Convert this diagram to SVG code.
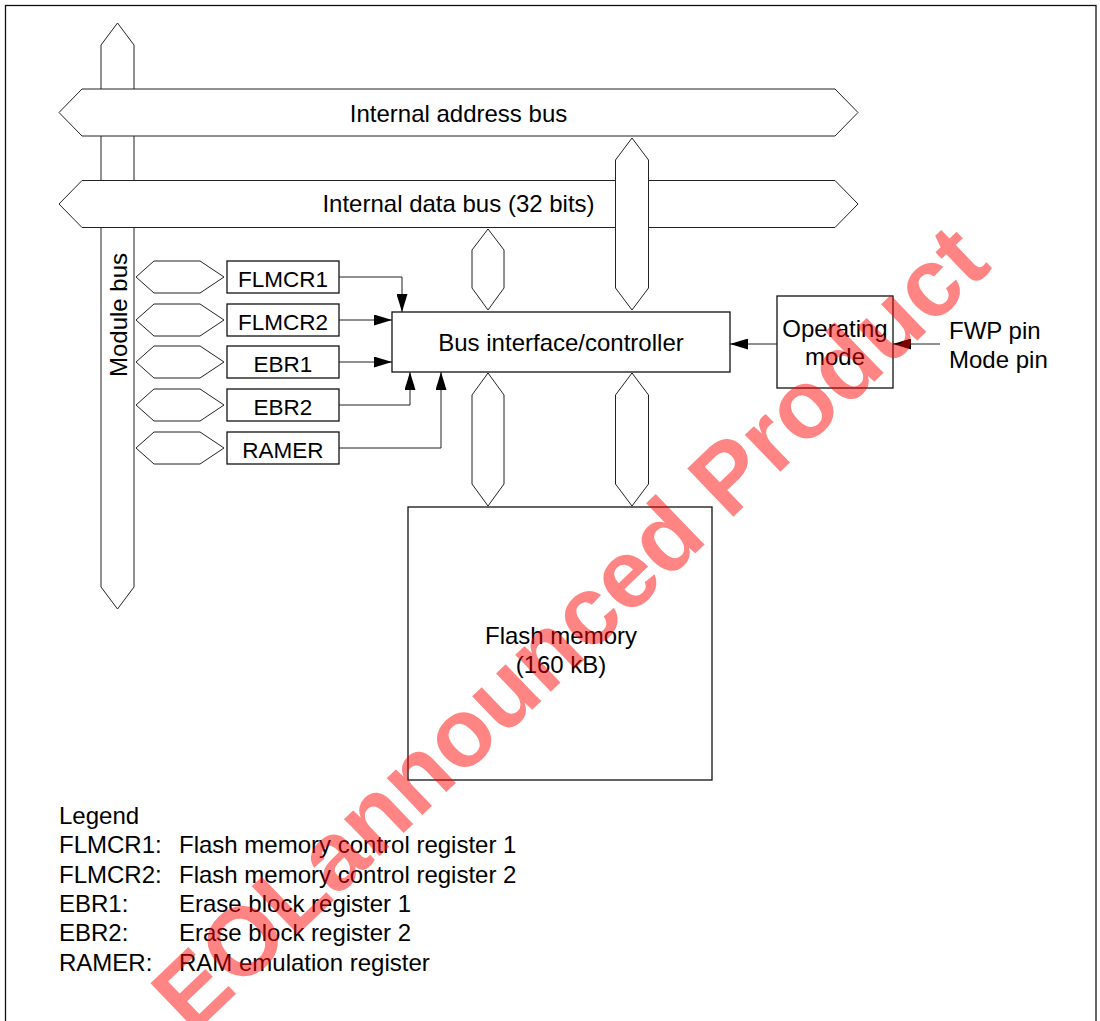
<svg xmlns="http://www.w3.org/2000/svg" width="1100" height="1021" viewBox="0 0 1100 1021">
<defs>
<style>
.bus{fill:#fff;stroke:#222;stroke-width:1}
.box{fill:#fff;stroke:#111;stroke-width:1.3}
.t{font-family:"Liberation Sans",Arial,sans-serif;font-size:24px;fill:#000}
.r{font-family:"Liberation Sans",Arial,sans-serif;font-size:22.5px;fill:#000;text-anchor:middle}
.m{text-anchor:middle}
.c{fill:none;stroke:#222;stroke-width:1}
.wm{font-family:"Liberation Sans",Arial,sans-serif;font-size:97px;font-weight:bold;fill:#ff0000;fill-opacity:0.48}
</style>
<marker id="ah" markerWidth="18" markerHeight="11" refX="18" refY="5.5" orient="auto" markerUnits="userSpaceOnUse">
<path d="M0,0 L18,5.5 L0,11 z" fill="#000"/>
</marker>
</defs>
<rect x="0" y="0" width="1100" height="1021" fill="#fff"/>
<rect x="5.5" y="5.5" width="1090.5" height="1030" fill="none" stroke="#111" stroke-width="1.3"/>

<g id="module-bus">
<polygon class="bus" points="117.5,23 134,45 134,587 117.5,609 101,587 101,45"/>
<text class="t m" transform="translate(127,315) rotate(-90)" x="0" y="0">Module bus</text>
</g>
<g id="address-bus">
<polygon class="bus" points="59,112.5 82,89 835,89 858,112.5 835,136 82,136"/>
<text class="t m" x="458.5" y="122">Internal address bus</text>
</g>
<g id="data-bus">
<polygon class="bus" points="59,204 82,180.5 835,180.5 858,204 835,227.5 82,227.5"/>
<text class="t m" x="458.5" y="212">Internal data bus (32 bits)</text>
</g>
<g id="addr-link">
<polygon class="bus" points="632,138 648.5,160 648.5,288 632,310 615.5,288 615.5,160"/>
</g>
<g id="data-link">
<polygon class="bus" points="488,229 504,250 504,288 488,310 472,288 472,250"/>
</g>
<g id="flash-link-1">
<polygon class="bus" points="488,373 504,395 504,484 488,506 472,484 472,395"/>
</g>
<g id="flash-link-2">
<polygon class="bus" points="632,373 648.5,395 648.5,484 632,506 615.5,484 615.5,395"/>
</g>

<g id="flmcr1">
<polygon class="bus" points="136,277 154,261 200,261 224,277 200,293 154,293"/>
<rect class="box" x="227" y="261" width="112" height="32"/>
<text class="r" x="283" y="287">FLMCR1</text>
</g>
<g id="flmcr2">
<polygon class="bus" points="136,320 154,304 200,304 224,320 200,336 154,336"/>
<rect class="box" x="227" y="304" width="112" height="32"/>
<text class="r" x="283" y="330">FLMCR2</text>
</g>
<g id="ebr1">
<polygon class="bus" points="136,362 154,346 200,346 224,362 200,378 154,378"/>
<rect class="box" x="227" y="346" width="112" height="32"/>
<text class="r" x="283" y="372">EBR1</text>
</g>
<g id="ebr2">
<polygon class="bus" points="136,405 154,389 200,389 224,405 200,421 154,421"/>
<rect class="box" x="227" y="389" width="112" height="32"/>
<text class="r" x="283" y="415">EBR2</text>
</g>
<g id="ramer">
<polygon class="bus" points="136,448 154,432 200,432 224,448 200,464 154,464"/>
<rect class="box" x="227" y="432" width="112" height="32"/>
<text class="r" x="283" y="458">RAMER</text>
</g>

<g id="bus-interface">
<rect class="box" x="392" y="312" width="338" height="60"/>
<text class="t m" x="561" y="350.5">Bus interface/controller</text>
</g>
<g id="operating-mode">
<rect class="box" x="777" y="296" width="116" height="92"/>
<text class="t m" x="835" y="337">Operating</text>
<text class="t m" x="835" y="365">mode</text>
</g>
<g id="pins">
<text class="t" x="949" y="339">FWP pin</text>
<text class="t" x="949" y="368">Mode pin</text>
</g>
<g id="flash-memory">
<rect class="box" x="408" y="507" width="304" height="273"/>
<text class="t m" x="561" y="644">Flash memory</text>
<text class="t m" x="561" y="673">(160 kB)</text>
</g>

<g id="connectors">
<path class="c" d="M339,277 H402 V312" marker-end="url(#ah)"/>
<path class="c" d="M339,320 H392" marker-end="url(#ah)"/>
<path class="c" d="M339,362 H392" marker-end="url(#ah)"/>
<path class="c" d="M339,405 H410 V372" marker-end="url(#ah)"/>
<path class="c" d="M339,448 H441 V372" marker-end="url(#ah)"/>
<path class="c" d="M777,344 H730" marker-end="url(#ah)"/>
<path class="c" d="M940,344 H893" marker-end="url(#ah)"/>
</g>

<g id="legend">
<text class="t" x="59" y="824">Legend</text>
<text class="t" x="59" y="853">FLMCR1:</text><text class="t" x="179" y="853">Flash memory control register 1</text>
<text class="t" x="59" y="882.5">FLMCR2:</text><text class="t" x="179" y="882.5">Flash memory control register 2</text>
<text class="t" x="59" y="912">EBR1:</text><text class="t" x="179" y="912">Erase block register 1</text>
<text class="t" x="59" y="941">EBR2:</text><text class="t" x="179" y="941">Erase block register 2</text>
<text class="t" x="59" y="970.5">RAMER:</text><text class="t" x="179" y="970.5">RAM emulation register</text>
</g>

<text class="wm" transform="translate(192,1036) rotate(-43.8)" x="0" y="0">EOLannounced Product</text>
</svg>
